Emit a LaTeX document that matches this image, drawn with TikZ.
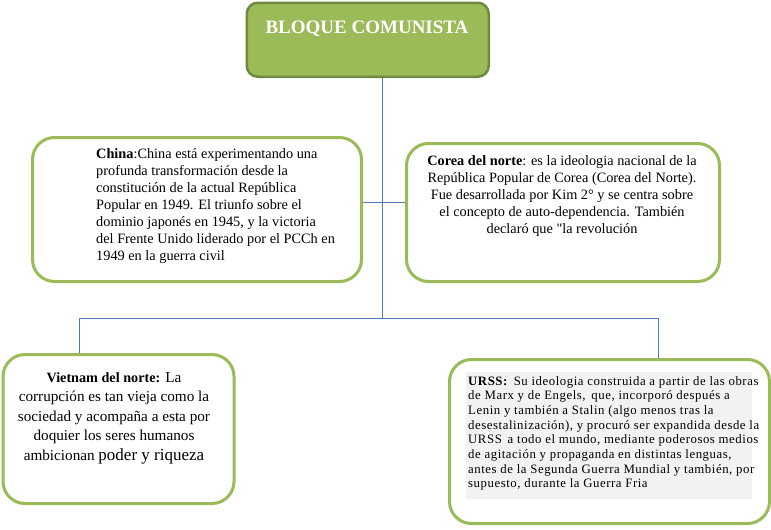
\documentclass[tikz,border=0pt]{standalone}
\usepackage{fontspec}
\setmainfont{Liberation Serif}[Ligatures=TeXOff]
\newfontfamily\spacedserif{Liberation Serif}[LetterSpace=4.3, Ligatures=TeXOff]
\usetikzlibrary{backgrounds}
\definecolor{boxgreen}{HTML}{9BBB59}
\definecolor{darkgreen}{HTML}{71893F}
\definecolor{lineblue}{HTML}{4A7EBB}
\definecolor{graybg}{HTML}{F2F2F2}
\begin{document}
\begin{tikzpicture}[x=1pt,y=-1pt]
\tikzset{
  greenbox/.style={draw=boxgreen, line width=3pt, fill=white, rounded corners=22pt},
  topbox/.style={draw=darkgreen, line width=2.5pt, fill=boxgreen, rounded corners=11pt},
  conn/.style={draw=lineblue, line width=1pt},
  txt/.style={inner sep=0pt, text=black}
}
\useasboundingbox (0,0) rectangle (771,530);
% boxes as nodes
\node[topbox, minimum width=242pt, minimum height=74pt, anchor=north west] (top) at (245.5,1.5) {};
\node[greenbox, minimum width=329pt, minimum height=144pt, anchor=north west] (china) at (31,136) {};
\node[greenbox, minimum width=313pt, minimum height=138pt, anchor=north west] (corea) at (405,142) {};
\node[greenbox, minimum width=231pt, minimum height=149pt, anchor=north west] (viet) at (1.5,353) {};
\node[greenbox, minimum width=320pt, minimum height=164pt, anchor=north west] (urss) at (448,358) {};
% connectors
\coordinate (j) at (382,318);
\coordinate (jl) at (79,318);
\coordinate (jr) at (658,318);
\coordinate (hl) at (china.east |- 0,202);
\coordinate (hr) at (corea.west |- 0,202);
\begin{scope}[on background layer]
\draw[conn] (top.south -| j) -- (j);
\draw[conn] (hl) -- (hr);
\draw[conn] (jl) -- (jr);
\draw[conn] (jl) -- (viet.north -| jl);
\draw[conn] (jr) -- (urss.north -| jr);
\end{scope}
% texts
\node[txt, anchor=base, text=white, font=\fontsize{19}{22}\selectfont\bfseries] (toptxt) at (367,33) {BLOQUE COMUNISTA};
\node[txt, anchor=north west, align=left, font=\fontsize{14.3}{17}\selectfont] (chinatxt) at (96,148)
{\textbf{China}:China está experimentando una\\
profunda transformación desde la\\
constitución de la actual República\\
Popular en 1949. El triunfo sobre el\\
dominio japonés en 1945, y la victoria\\
del Frente Unido liderado por el PCCh en\\
1949 en la guerra civil};
\node[txt, anchor=north, align=center, font=\fontsize{14.3}{17}\selectfont] (coreatxt) at (562,155)
{\textbf{Corea del norte}: es la ideologia nacional de la\\
República Popular de Corea (Corea del Norte).\\
Fue desarrollada por Kim 2° y se centra sobre\\
el concepto de auto-dependencia. También\\
declaró que "la revolución};
\node[txt, anchor=north, align=center, font=\fontsize{15.2}{19.5}\selectfont] (viettxt) at (114,372)
{{\fontsize{14.2}{19.5}\selectfont\textbf{Vietnam del norte:}} La\\
corrupción es tan vieja como la\\
sociedad y acompaña a esta por\\
doquier los seres humanos\\
ambicionan {\fontsize{17}{19.5}\selectfont poder y riqueza}};
\fill[graybg] (466,372) rectangle (752,499);
\node[txt, anchor=north west, align=left, font=\spacedserif\fontsize{12.8}{14.7}\selectfont] (ursstxt) at (468,376)
{\textbf{URSS:}\, Su ideologia construida a partir de las obras\\
de Marx y de Engels,\, que, incorporó después a\\
Lenin y también a Stalin (algo menos tras la\\
desestalinización), y procuró ser expandida desde la\\
URSS\, a todo el mundo, mediante poderosos medios\\
de agitación y propaganda en distintas lenguas,\\
antes de la Segunda Guerra Mundial y también, por\\
supuesto, durante la Guerra Fria};
\end{tikzpicture}
\end{document}
